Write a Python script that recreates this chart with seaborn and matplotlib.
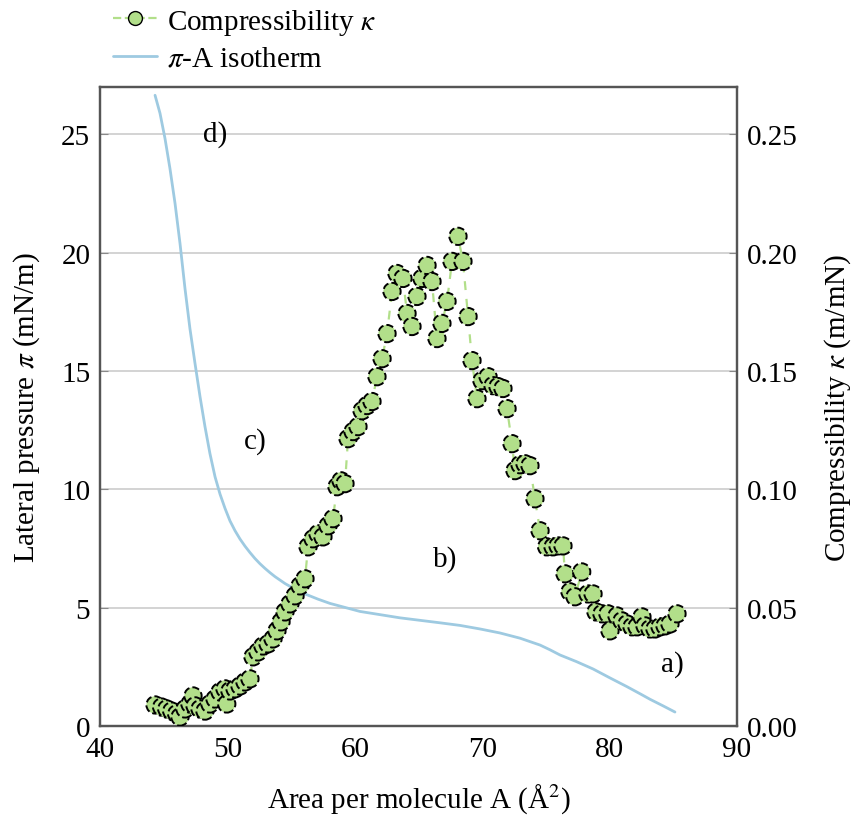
import numpy as np
import pandas as pd
import matplotlib
matplotlib.use("Agg")
import matplotlib.pyplot as plt
from matplotlib.lines import Line2D
import seaborn as sns

# ---- data ----
kappa_area = [44.32, 44.84, 45.24, 45.63, 46.02, 46.28, 46.67, 47.06, 47.30, 47.46,
              47.85, 48.24, 48.63, 49.03, 49.42, 49.81, 49.95, 50.20, 50.60, 50.99,
              51.38, 51.77, 52.01, 52.40, 52.79, 53.19, 53.58, 53.89, 54.21, 54.52,
              54.91, 55.31, 55.70, 56.09, 56.33, 56.72, 57.11, 57.50, 57.90, 58.29,
              58.60, 58.92, 59.23, 59.47, 59.86, 60.25, 60.57, 60.96, 61.35, 61.74,
              62.14, 62.53, 62.92, 63.31, 63.78, 64.10, 64.49, 64.88, 65.27, 65.67,
              66.06, 66.45, 66.84, 67.24, 67.63, 68.10, 68.49, 68.89, 69.20, 69.59,
              69.98, 70.46, 70.85, 71.24, 71.63, 71.95, 72.34, 72.57, 72.97, 73.36,
              73.75, 74.14, 74.54, 75.06, 75.56, 75.95, 76.34, 76.50, 76.89, 77.28,
              77.81, 78.30, 78.70, 78.93, 79.40, 79.87, 80.03, 80.58, 80.97, 81.37,
              81.76, 82.15, 82.54, 82.78, 83.17, 83.56, 83.96, 84.35, 84.74, 85.29]
kappa_vals = [0.0089, 0.0080, 0.0072, 0.0063, 0.0051, 0.0038, 0.0072, 0.0093, 0.0127, 0.0085,
              0.0072, 0.0063, 0.0093, 0.0114, 0.0144, 0.0157, 0.0093, 0.0148, 0.0157, 0.0169,
              0.0186, 0.0199, 0.0292, 0.0313, 0.0338, 0.0347, 0.0368, 0.0402, 0.0440, 0.0482,
              0.0516, 0.0550, 0.0592, 0.0622, 0.0757, 0.0791, 0.0812, 0.0799, 0.0846, 0.0876,
              0.1011, 0.1036, 0.1024, 0.1214, 0.1244, 0.1265, 0.1332, 0.1354, 0.1371, 0.1476,
              0.1552, 0.1658, 0.1836, 0.1912, 0.1891, 0.1743, 0.1688, 0.1815, 0.1891, 0.1946,
              0.1878, 0.1637, 0.1701, 0.1794, 0.1963, 0.2069, 0.1963, 0.1730, 0.1544, 0.1383,
              0.1459, 0.1476, 0.1438, 0.1434, 0.1426, 0.1341, 0.1193, 0.1079, 0.1104, 0.1108,
              0.1100, 0.0960, 0.0825, 0.0757, 0.0757, 0.0761, 0.0761, 0.0643, 0.0567, 0.0546,
              0.0651, 0.0558, 0.0558, 0.0482, 0.0474, 0.0474, 0.0402, 0.0465, 0.0444, 0.0431,
              0.0419, 0.0419, 0.0461, 0.0423, 0.0410, 0.0410, 0.0419, 0.0423, 0.0431, 0.0474]

iso_area = [44.32, 44.71, 45.10, 45.49, 45.89, 46.28, 46.67, 47.06, 47.46, 47.85,
            48.24, 48.63, 49.03, 49.42, 49.81, 50.20, 50.60, 50.99, 51.38, 51.77,
            52.16, 52.55, 52.95, 53.34, 53.74, 54.52, 55.31, 56.09, 57.11, 58.05,
            60.41, 63.55, 66.69, 68.26, 69.83, 71.40, 72.97, 74.54, 75.32, 76.11,
            77.40, 78.70, 80.00, 81.37, 82.50, 83.17, 84.20, 85.13]
iso_pi = [26.65, 25.89, 24.83, 23.56, 22.08, 20.39, 18.49, 16.79, 15.31, 13.92,
          12.65, 11.51, 10.53, 9.80, 9.20, 8.67, 8.25, 7.90, 7.60, 7.33,
          7.08, 6.86, 6.66, 6.48, 6.31, 6.02, 5.78, 5.58, 5.36, 5.18,
          4.84, 4.57, 4.36, 4.25, 4.10, 3.93, 3.71, 3.42, 3.22, 3.00,
          2.72, 2.41, 2.04, 1.66, 1.33, 1.13, 0.85, 0.59]

annot_text = ["a)", "b)", "c)", "d)"]
annot_x = [84.9, 67.1, 52.2, 49.0]
annot_y = [2.62, 7.06, 12.05, 25.04]

left_ticks = [0, 5, 10, 15, 20, 25]
right_ticks = [0.00, 0.05, 0.10, 0.15, 0.20, 0.25]
x_ticks = [40, 50, 60, 70, 80, 90]

# ---- style ----
sns.set_style("white")
plt.rcParams['font.family'] = ['Liberation Serif', 'DejaVu Serif']
plt.rcParams['mathtext.fontset'] = 'stix'
plt.rcParams['text.color'] = 'black'
plt.rcParams['axes.labelcolor'] = 'black'
plt.rcParams['xtick.color'] = 'black'
plt.rcParams['ytick.color'] = 'black'

GREEN = "#b2df8a"
BLUE = "#9ecae1"
SPINE = "#555555"
FS = 21

fig = plt.figure(figsize=(8.54, 8.20), dpi=100)
ax = fig.add_axes([100/854, 93/820, 637/854, 639/820])
ax2 = ax.twinx()

df_iso = pd.DataFrame({"area": iso_area, "pi": iso_pi})
df_k = pd.DataFrame({"area": kappa_area, "kappa": kappa_vals})

sns.lineplot(data=df_iso, x="area", y="pi", ax=ax, color=BLUE, linewidth=2.0,
             sort=False, estimator=None)

sns.lineplot(data=df_k, x="area", y="kappa", ax=ax2, color=GREEN, linewidth=1.6,
             sort=False, estimator=None)
ax2.lines[-1].set_dashes([4, 4])
sns.scatterplot(data=df_k, x="area", y="kappa", ax=ax2, color=GREEN, s=155,
                edgecolor="black", linewidth=1.4, linestyle="--", zorder=3)

ax.set_xlim(40, 90)
ax.set_ylim(0, 27)
ax2.set_ylim(0, 0.27)
ax.set_xticks(x_ticks)
ax.set_yticks(left_ticks)
ax2.set_yticks(right_ticks)
ax2.set_yticklabels([f"{v:.2f}" for v in right_ticks])

ax.grid(axis="y", color="#cccccc", linewidth=1.2)
ax.grid(axis="x", visible=False)
ax2.grid(False)

for a in (ax, ax2):
    for sp in a.spines.values():
        sp.set_color(SPINE)
        sp.set_linewidth(1.6)
    a.tick_params(direction="in", length=6, color="#888888", labelcolor="black",
                  labelsize=FS, pad=7)

ax.set_xlabel("Area per molecule A (Å$^2$)", fontsize=FS, labelpad=14)
ax.set_ylabel("Lateral pressure $\\pi$ (mN/m)", fontsize=FS, labelpad=14)
ax2.set_ylabel("Compressibility $\\kappa$ (m/mN)", fontsize=FS, labelpad=18)

for t, xx, yy in zip(annot_text, annot_x, annot_y):
    ax.text(xx, yy, t, fontsize=FS, ha="center", va="center")

handles = [
    Line2D([], [], color=GREEN, linestyle="--", linewidth=1.6, marker="o",
           markersize=10, markerfacecolor=GREEN, markeredgecolor="black"),
    Line2D([], [], color=BLUE, linewidth=2.0),
]
fig.legend(handles, ["Compressibility $\\kappa$", "$\\pi$-A isotherm"],
           loc="upper left", bbox_to_anchor=(96/854, 1.012), frameon=False,
           fontsize=FS, handlelength=1.5, handletextpad=0.35,
           labelspacing=0.3, borderaxespad=0.2)

fig.savefig("out.png", dpi=100)
